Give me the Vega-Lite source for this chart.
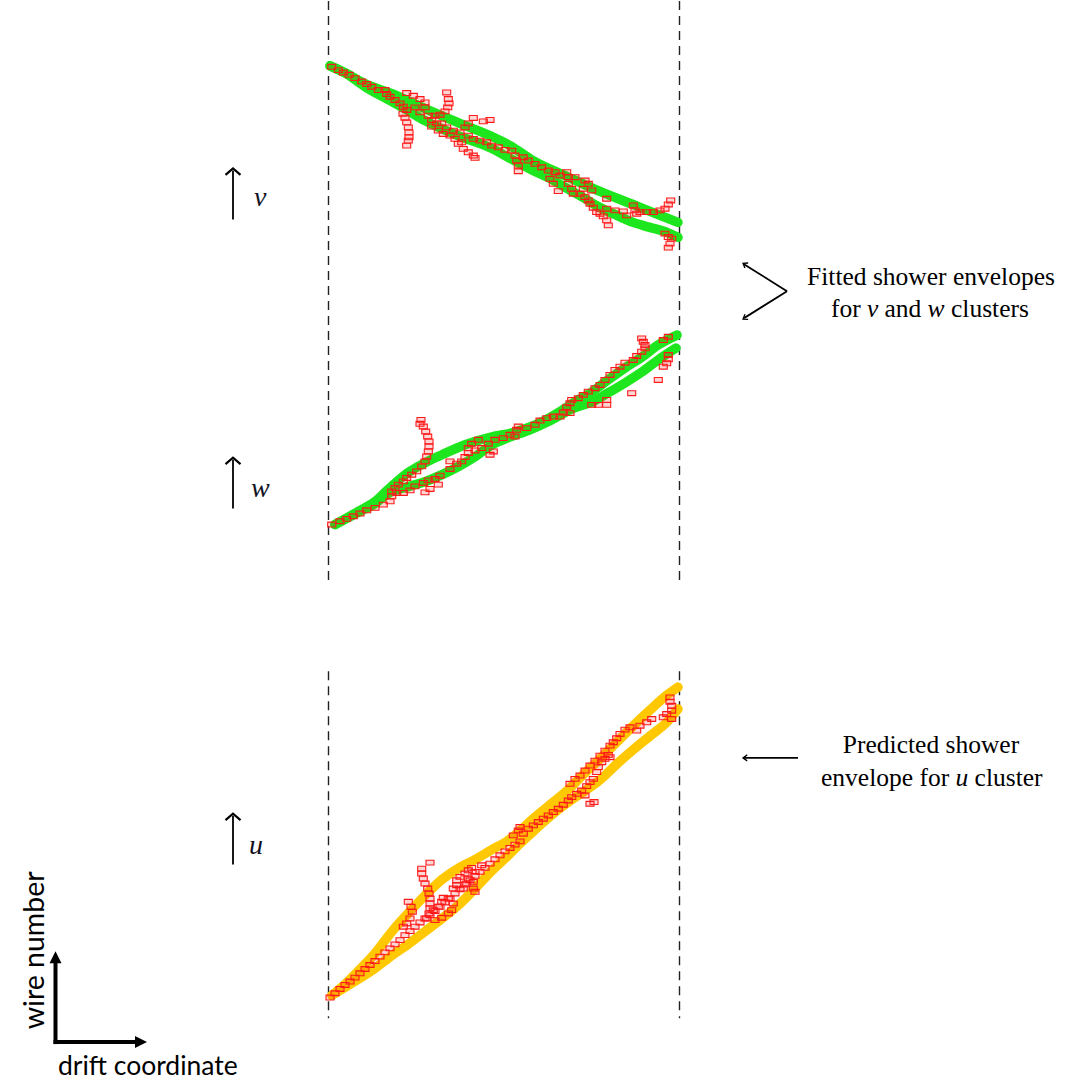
{
  "$schema": "https://vega.github.io/schema/vega-lite/v6.json",
  "width": 1081,
  "height": 1081,
  "autosize": {"type": "fit", "contains": "padding"},
  "padding": 0,
  "background": "white",
  "config": {"view": {"stroke": null}},
  "datasets": {
    "dashes": [
      {"x": 328.5, "y": 0, "y2": 583}, {"x": 679.5, "y": 0, "y2": 583},
      {"x": 328.5, "y": 672, "y2": 1020}, {"x": 679.5, "y": 672, "y2": 1020}
    ],
    "lines": [
      {"s":"v1","x":330,"y":65},{"s":"v1","x":345,"y":72},{"s":"v1","x":365,"y":83},{"s":"v1","x":392,"y":93},{"s":"v1","x":425,"y":108},{"s":"v1","x":458,"y":122},{"s":"v1","x":492,"y":136},{"s":"v1","x":510,"y":145},{"s":"v1","x":533,"y":160},{"s":"v1","x":567,"y":176},{"s":"v1","x":600,"y":191},{"s":"v1","x":633,"y":204},{"s":"v1","x":650,"y":211},{"s":"v1","x":678,"y":222},
      {"s":"v2","x":330,"y":65},{"s":"v2","x":345,"y":72},{"s":"v2","x":365,"y":86},{"s":"v2","x":392,"y":101},{"s":"v2","x":408,"y":110},{"s":"v2","x":425,"y":120},{"s":"v2","x":458,"y":135},{"s":"v2","x":492,"y":148},{"s":"v2","x":505,"y":155},{"s":"v2","x":533,"y":170},{"s":"v2","x":550,"y":178},{"s":"v2","x":567,"y":188},{"s":"v2","x":583,"y":197},{"s":"v2","x":600,"y":207},{"s":"v2","x":617,"y":215},{"s":"v2","x":633,"y":222},{"s":"v2","x":650,"y":227},{"s":"v2","x":667,"y":232},{"s":"v2","x":678,"y":237},
      {"s":"w1","x":335,"y":525},{"s":"w1","x":358,"y":512},{"s":"w1","x":375,"y":502},{"s":"w1","x":388,"y":490},{"s":"w1","x":408,"y":473},{"s":"w1","x":425,"y":463},{"s":"w1","x":442,"y":455},{"s":"w1","x":465,"y":445},{"s":"w1","x":492,"y":437},{"s":"w1","x":512,"y":433},{"s":"w1","x":542,"y":422},{"s":"w1","x":558,"y":413},{"s":"w1","x":575,"y":402},{"s":"w1","x":592,"y":392},{"s":"w1","x":608,"y":380},{"s":"w1","x":625,"y":368},{"s":"w1","x":642,"y":357},{"s":"w1","x":658,"y":345},{"s":"w1","x":677,"y":335},
      {"s":"w2","x":335,"y":525},{"s":"w2","x":358,"y":513},{"s":"w2","x":375,"y":504},{"s":"w2","x":388,"y":494},{"s":"w2","x":408,"y":487},{"s":"w2","x":425,"y":482},{"s":"w2","x":442,"y":475},{"s":"w2","x":458,"y":467},{"s":"w2","x":475,"y":457},{"s":"w2","x":492,"y":445},{"s":"w2","x":508,"y":438},{"s":"w2","x":530,"y":430},{"s":"w2","x":550,"y":421},{"s":"w2","x":572,"y":409},{"s":"w2","x":592,"y":402},{"s":"w2","x":608,"y":393},{"s":"w2","x":625,"y":383},{"s":"w2","x":642,"y":372},{"s":"w2","x":658,"y":360},{"s":"w2","x":676,"y":348},
      {"s":"u1","x":332,"y":997},{"s":"u1","x":345,"y":986},{"s":"u1","x":358,"y":973},{"s":"u1","x":375,"y":955},{"s":"u1","x":392,"y":933},{"s":"u1","x":408,"y":915},{"s":"u1","x":425,"y":897},{"s":"u1","x":442,"y":881},{"s":"u1","x":458,"y":870},{"s":"u1","x":475,"y":861},{"s":"u1","x":492,"y":851},{"s":"u1","x":508,"y":842},{"s":"u1","x":520,"y":832},{"s":"u1","x":533,"y":820},{"s":"u1","x":550,"y":806},{"s":"u1","x":567,"y":792},{"s":"u1","x":583,"y":776},{"s":"u1","x":600,"y":760},{"s":"u1","x":617,"y":743},{"s":"u1","x":633,"y":727},{"s":"u1","x":650,"y":711},{"s":"u1","x":667,"y":696},{"s":"u1","x":678,"y":688},
      {"s":"u2","x":332,"y":997},{"s":"u2","x":355,"y":983},{"s":"u2","x":375,"y":970},{"s":"u2","x":392,"y":957},{"s":"u2","x":408,"y":946},{"s":"u2","x":425,"y":933},{"s":"u2","x":442,"y":920},{"s":"u2","x":458,"y":907},{"s":"u2","x":475,"y":890},{"s":"u2","x":492,"y":872},{"s":"u2","x":508,"y":857},{"s":"u2","x":520,"y":845},{"s":"u2","x":533,"y":833},{"s":"u2","x":545,"y":822},{"s":"u2","x":558,"y":811},{"s":"u2","x":570,"y":802},{"s":"u2","x":585,"y":792},{"s":"u2","x":600,"y":781},{"s":"u2","x":617,"y":765},{"s":"u2","x":633,"y":751},{"s":"u2","x":650,"y":737},{"s":"u2","x":667,"y":723},{"s":"u2","x":678,"y":710}
    ],
    "hits": [
      {"x":331.7,"y":66},{"x":338.3,"y":69.3},{"x":343.3,"y":71.7},{"x":349,"y":74},{"x":355,"y":77.3},{"x":361.7,"y":80.7},{"x":366.7,"y":83.3},{"x":371.7,"y":86},{"x":378.3,"y":89.3},{"x":385,"y":89.3},{"x":386.7,"y":93.3},{"x":390,"y":96},{"x":395,"y":99.3},{"x":400,"y":102.7},{"x":403.3,"y":106},{"x":406.7,"y":109.3},{"x":415,"y":106.7},{"x":420,"y":111.7},{"x":425,"y":101.7},{"x":425,"y":106.7},{"x":406.7,"y":92.3},{"x":413.3,"y":95},{"x":420,"y":98.3},{"x":403,"y":113},{"x":405,"y":117},{"x":406.7,"y":121.7},{"x":408.3,"y":126.7},{"x":409,"y":131.7},{"x":409,"y":136.7},{"x":408.3,"y":140},{"x":406.7,"y":145},{"x":446.7,"y":91.7},{"x":448.3,"y":98.3},{"x":449,"y":102.7},{"x":447.7,"y":106.7},{"x":445,"y":110.7},{"x":428.3,"y":115},{"x":435,"y":115},{"x":440,"y":114},{"x":431.7,"y":119.3},{"x":436.7,"y":122.7},{"x":441.7,"y":122.7},{"x":446.7,"y":126.7},{"x":453.3,"y":130},{"x":460,"y":131.7},{"x":465,"y":126.7},{"x":468.3,"y":122.7},{"x":473.3,"y":117.3},{"x":483.3,"y":120.7},{"x":490,"y":119.3},{"x":431.7,"y":126},{"x":438.3,"y":130},{"x":443.3,"y":133.3},{"x":450,"y":135},{"x":455,"y":138.3},{"x":461.7,"y":141.7},{"x":468.3,"y":135},{"x":473.3,"y":138.3},{"x":480,"y":140},{"x":486.7,"y":141.7},{"x":491.7,"y":145},{"x":498.3,"y":146.7},{"x":505,"y":149.3},{"x":511.7,"y":150},{"x":458.3,"y":143.3},{"x":463.3,"y":148.3},{"x":468.3,"y":151.7},{"x":473.3,"y":155},{"x":475,"y":157.3},
      {"x":515,"y":155},{"x":516.7,"y":160},{"x":518.3,"y":165},{"x":518.3,"y":170.7},{"x":523.3,"y":156.7},{"x":528.3,"y":160},{"x":535,"y":163.3},{"x":541.7,"y":166.7},{"x":548.3,"y":170},{"x":555,"y":171.7},{"x":560,"y":175},{"x":566.7,"y":171.7},{"x":568.3,"y":176.7},{"x":575,"y":176.7},{"x":550,"y":178.3},{"x":553.3,"y":183.3},{"x":558.3,"y":190.7},{"x":568.3,"y":183.3},{"x":571.7,"y":188.3},{"x":573.3,"y":193.3},{"x":580,"y":193.3},{"x":585,"y":180},{"x":588.3,"y":183.3},{"x":591.7,"y":190},{"x":583.3,"y":188.3},{"x":585,"y":196.7},{"x":588.3,"y":200},{"x":590,"y":203.3},{"x":593.3,"y":207.3},{"x":596.7,"y":211.7},{"x":600,"y":213.3},{"x":603.3,"y":216},{"x":606.7,"y":220},{"x":608.3,"y":225},{"x":606.7,"y":198.3},{"x":606.7,"y":208.3},{"x":615,"y":210},{"x":623.3,"y":211},{"x":626.7,"y":215},{"x":633.3,"y":205},{"x":635,"y":210},{"x":636.7,"y":213.3},{"x":640,"y":211.7},{"x":646.7,"y":211.7},{"x":653.3,"y":211.7},{"x":660,"y":210},{"x":665,"y":208.3},{"x":668.3,"y":204},{"x":670.7,"y":200},{"x":665,"y":233.3},{"x":668.3,"y":236.7},{"x":671.7,"y":238.3},{"x":670,"y":243.3},{"x":668.3,"y":247.3},
      {"x":331.7,"y":525},{"x":340,"y":521.7},{"x":346.7,"y":519.3},{"x":353.3,"y":516.7},{"x":360,"y":514},{"x":366.7,"y":510.7},{"x":375,"y":508.3},{"x":383.3,"y":505},{"x":390,"y":501.7},{"x":391.7,"y":496.7},{"x":391.7,"y":491.7},{"x":395,"y":488.3},{"x":398.3,"y":485},{"x":403.3,"y":481.7},{"x":406.7,"y":478.3},{"x":411.7,"y":475},{"x":416.7,"y":471.7},{"x":421.7,"y":466.7},{"x":425,"y":461.7},{"x":426.7,"y":456.7},{"x":428.3,"y":451.7},{"x":429,"y":446.7},{"x":429,"y":441.7},{"x":427.7,"y":436.7},{"x":425.7,"y":431.7},{"x":423.3,"y":426.7},{"x":421,"y":420},{"x":420,"y":424},
      {"x":396.7,"y":493.3},{"x":403.3,"y":493.3},{"x":410,"y":490.7},{"x":415,"y":486.7},{"x":423.3,"y":483.3},{"x":428.3,"y":480.7},{"x":435,"y":479.3},{"x":440,"y":476},{"x":425,"y":492.7},{"x":430,"y":489.3},{"x":438.3,"y":485},{"x":450,"y":469.3},{"x":450,"y":461.7},{"x":456.7,"y":464},{"x":461.7,"y":461.7},{"x":465,"y":457.3},{"x":468.3,"y":453.3},{"x":468.3,"y":448.3},{"x":471.7,"y":444},{"x":478.3,"y":440},{"x":475,"y":450.7},{"x":481.7,"y":448.3},{"x":488.3,"y":444},{"x":490,"y":455},{"x":493.3,"y":451.7},{"x":495,"y":440},{"x":503.3,"y":438.3},{"x":510,"y":435},{"x":516.7,"y":430},{"x":515,"y":436.7},{"x":518.3,"y":426.7},{"x":526.7,"y":428.3},{"x":535,"y":425},{"x":540,"y":420.7},{"x":546.7,"y":418.3},{"x":553.3,"y":416.7},{"x":560,"y":416.7},{"x":563.3,"y":412.7},{"x":570,"y":413.3},{"x":566.7,"y":407.3},{"x":570,"y":403.3},{"x":571.7,"y":400},{"x":578.3,"y":398.3},{"x":583.3,"y":395},{"x":588.3,"y":391.7},{"x":595,"y":388.3},{"x":600,"y":385},{"x":605,"y":380},{"x":610,"y":375},{"x":615,"y":370},{"x":620,"y":366.7},{"x":625,"y":362.7},{"x":633.3,"y":360},{"x":636.7,"y":356},{"x":641.7,"y":351.7},{"x":645,"y":348.3},{"x":645,"y":345},{"x":643.3,"y":341.7},{"x":641.7,"y":338.3},{"x":663.3,"y":340},{"x":668.3,"y":336.7},
      {"x":591.7,"y":405},{"x":598.3,"y":405},{"x":606.7,"y":405},{"x":606.7,"y":400},{"x":631.7,"y":393.3},{"x":658.3,"y":380},{"x":663.3,"y":366.7},{"x":666.7,"y":363.3},{"x":668.3,"y":359.3},{"x":668.3,"y":355},
      {"x":330,"y":999.3},{"x":335,"y":995},{"x":340,"y":990.7},{"x":345,"y":986.7},{"x":350,"y":983.3},{"x":355,"y":979.3},{"x":360,"y":975},{"x":365,"y":970.7},{"x":370,"y":966.7},{"x":375,"y":962.7},{"x":380,"y":958.3},{"x":385,"y":954},{"x":390,"y":950},{"x":395,"y":946},{"x":400,"y":941.7},{"x":405,"y":936.7},{"x":410,"y":932.7},{"x":415,"y":928.3},{"x":420,"y":924},{"x":425,"y":920},{"x":430,"y":916.7},{"x":435,"y":912.7},{"x":440,"y":908.3},{"x":445,"y":904},{"x":450,"y":900},{"x":455,"y":895},{"x":460,"y":890.7},{"x":465,"y":886},{"x":470,"y":881.7},{"x":475,"y":877.3},{"x":480,"y":873.3},{"x":485,"y":869.3},{"x":490,"y":865},{"x":495,"y":860.7},{"x":500,"y":856.7},{"x":505,"y":852.7},{"x":510,"y":849.3},{"x":515,"y":846},{"x":520,"y":842.7},
      {"x":408.3,"y":903.3},{"x":411,"y":908.3},{"x":412.3,"y":913.3},{"x":410,"y":920},{"x":406.7,"y":925},{"x":403.3,"y":928.3},
      {"x":430,"y":864},{"x":421.7,"y":870},{"x":421.7,"y":875},{"x":423.3,"y":880},{"x":425,"y":885},{"x":427.7,"y":890},{"x":429,"y":895},{"x":430,"y":900},{"x":430,"y":905},{"x":430,"y":910},{"x":429,"y":915},{"x":426.7,"y":920},
      {"x":433.3,"y":911.7},{"x":438.3,"y":908.3},{"x":441.7,"y":903.3},{"x":443.3,"y":899.3},{"x":448.3,"y":900},{"x":453.3,"y":905},{"x":451.7,"y":911.7},{"x":448.3,"y":915},{"x":441.7,"y":919.3},{"x":435,"y":921.7},{"x":453.3,"y":890},{"x":456.7,"y":886.7},{"x":456.7,"y":881.7},{"x":460,"y":878.3},{"x":465,"y":875},{"x":468.3,"y":871.7},{"x":471.7,"y":869.3},{"x":475,"y":873.3},{"x":468.3,"y":880},{"x":473.3,"y":883.3},{"x":473.3,"y":890},{"x":475,"y":893.3},{"x":463.3,"y":890},{"x":466.7,"y":885},{"x":481.7,"y":866.7},
      {"x":513.3,"y":836.7},{"x":518.3,"y":831.7},{"x":520,"y":828.3},{"x":523.3,"y":835},{"x":528.3,"y":830},{"x":533.3,"y":826.7},{"x":538.3,"y":823.3},{"x":543.3,"y":820},{"x":548.3,"y":816.7},{"x":553.3,"y":813.3},{"x":558.3,"y":810},{"x":563.3,"y":806},{"x":568.3,"y":801.7},{"x":571.7,"y":798.3},{"x":576.7,"y":795},{"x":581.7,"y":791.7},{"x":585,"y":796.7},{"x":586.7,"y":787.3},{"x":590,"y":783.3},{"x":593.3,"y":780},{"x":596.7,"y":773.3},{"x":598.3,"y":768.3},{"x":601.7,"y":763.3},{"x":605,"y":760},{"x":608.3,"y":756},{"x":610,"y":758.3},{"x":590,"y":805},{"x":594,"y":803.3},
      {"x":570,"y":785},{"x":575,"y":780},{"x":580,"y":776.7},{"x":585,"y":771.7},{"x":590,"y":766.7},{"x":595,"y":761.7},{"x":600,"y":756.7},{"x":605,"y":751.7},{"x":610,"y":746.7},{"x":613.3,"y":743.3},{"x":616.7,"y":739.3},{"x":620,"y":735},{"x":625,"y":730.7},{"x":630,"y":728.3},{"x":636.7,"y":731.7},{"x":640,"y":726.7},{"x":646.7,"y":723.3},{"x":651.7,"y":720},{"x":663.3,"y":718.3},{"x":666.7,"y":715},{"x":671.7,"y":720},{"x":671.7,"y":711.7},{"x":671.7,"y":706.7},{"x":670,"y":702.7},{"x":670,"y":698.3}
    ],
    "thin": [
      {"x":233,"y":219,"x2":233,"y2":170},{"x":233,"y":509,"x2":233,"y2":460},{"x":233,"y":866,"x2":233,"y2":817},
      {"x":787,"y":291,"x2":744,"y2":264},{"x":787,"y":291,"x2":744,"y2":318},{"x":798,"y":759,"x2":744,"y2":759}
    ],
    "thinHeads": [
      {"x":233,"y":168,"dir":0},{"x":233,"y":458,"dir":0},{"x":233,"y":815,"dir":0}
    ],
    "smallHeads": [
      {"x":743,"y":263,"dir":302.5},{"x":743,"y":319,"dir":238.4},{"x":743,"y":759,"dir":270}
    ],
    "thick": [
      {"x":55.5,"y":1046,"x2":55.5,"y2":963},{"x":53.5,"y":1044,"x2":136,"y2":1044}
    ],
    "thickHeads": [
      {"x":55.5,"y":953,"dir":0},{"x":147,"y":1044,"dir":90}
    ],
    "serifCenter": [
      {"t":"Fitted shower envelopes","x":931,"y":285},{"t":"Predicted shower","x":931,"y":754}
    ],
    "serifLeft": [
      {"t":"for","x":831,"y":317},{"t":"and","x":884.5,"y":317},{"t":"clusters","x":951,"y":317},
      {"t":"envelope for","x":821,"y":787},{"t":"cluster","x":974.6,"y":787}
    ],
    "serifItalic": [
      {"t":"v","x":867,"y":317},{"t":"w","x":927.5,"y":317},{"t":"u","x":955.5,"y":787}
    ],
    "bigItalic": [
      {"t":"v","x":254,"y":206},{"t":"w","x":251,"y":497},{"t":"u","x":249,"y":855}
    ],
    "sans": [{"t":"drift coordinate","x":58,"y":1077}],
    "sansRot": [{"t":"wire number","x":44,"y":952}]
  },
  "layer": [
    {
      "data": {"name": "dashes"},
      "mark": {"type": "rule", "stroke": "#222222", "strokeWidth": 1.4, "strokeDash": [9, 6]},
      "encoding": {
        "x": {"field": "x", "type": "quantitative", "scale": {"domain": [0, 1081], "nice": false, "zero": false}, "axis": null},
        "y": {"field": "y", "type": "quantitative", "scale": {"domain": [0, 1081], "nice": false, "zero": false, "reverse": true}, "axis": null},
        "y2": {"field": "y2"}
      }
    },
    {
      "data": {"name": "lines"},
      "mark": {"type": "line", "strokeWidth": 9.5, "strokeCap": "round", "strokeJoin": "round", "interpolate": "monotone"},
      "encoding": {
        "x": {"field": "x", "type": "quantitative"},
        "y": {"field": "y", "type": "quantitative"},
        "color": {"field": "s", "type": "nominal", "legend": null,
          "scale": {"domain": ["v1","v2","w1","w2","u1","u2"], "range": ["#1ee61e","#1ee61e","#1ee61e","#1ee61e","#ffc800","#ffc800"]}}
      }
    },
    {
      "data": {"name": "hits"},
      "mark": {"type": "point", "shape": "M-1,-0.6H1V0.6H-1Z", "size": 64, "filled": true, "fill": "#ff0000", "fillOpacity": 0.16, "stroke": "#ff1a1a", "strokeWidth": 1.1, "strokeOpacity": 1},
      "encoding": {
        "x": {"field": "x", "type": "quantitative"},
        "y": {"field": "y", "type": "quantitative"}
      }
    },
    {
      "data": {"name": "thin"},
      "mark": {"type": "rule", "stroke": "black", "strokeWidth": 1.8},
      "encoding": {
        "x": {"field": "x", "type": "quantitative"},
        "y": {"field": "y", "type": "quantitative"},
        "x2": {"field": "x2"},
        "y2": {"field": "y2"}
      }
    },
    {
      "data": {"name": "thinHeads"},
      "mark": {"type": "point", "shape": "M-1,0.85L0,0L1,0.85", "size": 225, "filled": false, "stroke": "black", "strokeWidth": 2.2, "opacity": 1},
      "encoding": {
        "x": {"field": "x", "type": "quantitative"},
        "y": {"field": "y", "type": "quantitative"},
        "angle": {"field": "dir", "type": "quantitative", "scale": null}
      }
    },
    {
      "data": {"name": "smallHeads"},
      "mark": {"type": "point", "shape": "M-1,1.4L0,0L1,1.4", "size": 36, "filled": false, "stroke": "black", "strokeWidth": 1.3, "opacity": 1},
      "encoding": {
        "x": {"field": "x", "type": "quantitative"},
        "y": {"field": "y", "type": "quantitative"},
        "angle": {"field": "dir", "type": "quantitative", "scale": null}
      }
    },
    {
      "data": {"name": "thick"},
      "mark": {"type": "rule", "stroke": "black", "strokeWidth": 4},
      "encoding": {
        "x": {"field": "x", "type": "quantitative"},
        "y": {"field": "y", "type": "quantitative"},
        "x2": {"field": "x2"},
        "y2": {"field": "y2"}
      }
    },
    {
      "data": {"name": "thickHeads"},
      "mark": {"type": "point", "shape": "M-1,2L0,0L1,2Z", "size": 144, "filled": true, "fill": "black", "strokeWidth": 0, "opacity": 1},
      "encoding": {
        "x": {"field": "x", "type": "quantitative"},
        "y": {"field": "y", "type": "quantitative"},
        "angle": {"field": "dir", "type": "quantitative", "scale": null}
      }
    },
    {
      "data": {"name": "serifCenter"},
      "mark": {"type": "text", "font": "Liberation Serif", "fontSize": 25.5, "align": "center", "baseline": "alphabetic", "color": "black"},
      "encoding": {
        "x": {"field": "x", "type": "quantitative"},
        "y": {"field": "y", "type": "quantitative"},
        "text": {"field": "t"}
      }
    },
    {
      "data": {"name": "serifLeft"},
      "mark": {"type": "text", "font": "Liberation Serif", "fontSize": 25.5, "align": "left", "baseline": "alphabetic", "color": "black"},
      "encoding": {
        "x": {"field": "x", "type": "quantitative"},
        "y": {"field": "y", "type": "quantitative"},
        "text": {"field": "t"}
      }
    },
    {
      "data": {"name": "serifItalic"},
      "mark": {"type": "text", "font": "Liberation Serif", "fontSize": 25.5, "fontStyle": "italic", "align": "left", "baseline": "alphabetic", "color": "black"},
      "encoding": {
        "x": {"field": "x", "type": "quantitative"},
        "y": {"field": "y", "type": "quantitative"},
        "text": {"field": "t"}
      }
    },
    {
      "data": {"name": "bigItalic"},
      "mark": {"type": "text", "font": "Liberation Serif", "fontSize": 28, "fontStyle": "italic", "align": "left", "baseline": "alphabetic", "color": "#111122"},
      "encoding": {
        "x": {"field": "x", "type": "quantitative"},
        "y": {"field": "y", "type": "quantitative"},
        "text": {"field": "t"}
      }
    },
    {
      "data": {"name": "sans"},
      "mark": {"type": "text", "font": "Lato", "fontSize": 26.5, "align": "left", "baseline": "alphabetic", "color": "black"},
      "encoding": {
        "x": {"field": "x", "type": "quantitative"},
        "y": {"field": "y", "type": "quantitative"},
        "text": {"field": "t"}
      }
    },
    {
      "data": {"name": "sansRot"},
      "mark": {"type": "text", "font": "Lato", "fontSize": 28.5, "align": "center", "baseline": "alphabetic", "angle": 270, "color": "black"},
      "encoding": {
        "x": {"field": "x", "type": "quantitative"},
        "y": {"field": "y", "type": "quantitative"},
        "text": {"field": "t"}
      }
    }
  ]
}
